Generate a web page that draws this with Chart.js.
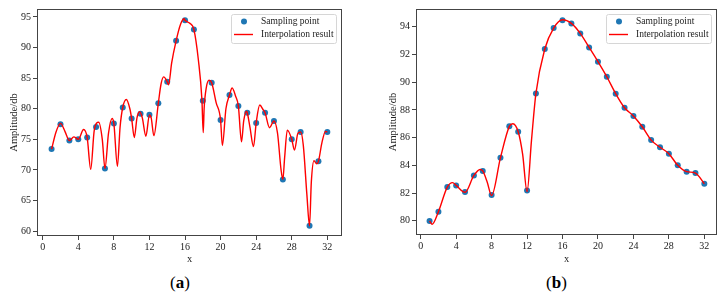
<!DOCTYPE html>
<html>
<head>
<meta charset="utf-8">
<script src="https://cdn.jsdelivr.net/npm/chart.js@4/dist/chart.umd.min.js"></script>
<style>
  html, body { margin:0; padding:0; background:#fff; }
  body { width:724px; height:298px; position:relative; overflow:hidden; }
  canvas { position:absolute; top:0; }
  #ca { left:0; }
  #cb { left:362px; }
  .cap { position:absolute; top:273px; font-family:"Liberation Serif", serif; font-size:17px; color:#000; line-height:20px; }
  .cap b { font-weight:bold; }
</style>
</head>
<body>
<canvas id="ca" width="362" height="272"></canvas>
<canvas id="cb" width="362" height="272"></canvas>
<div class="cap" style="left:170px;">(<b>a</b>)</div>
<div class="cap" style="left:546px;">(<b>b</b>)</div>
<script>
// ---- data ----
const xSample = [1,2,3,4,5,6,7,8,9,10,11,12,13,14,15,16,17,18,19,20,21,22,23,24,25,26,27,28,29,30,31,32];
const ampA = [73.4,77.45,74.8,75.0,75.3,77.0,70.25,77.6,80.2,78.4,79.2,79.0,80.9,84.4,91.1,94.45,
              92.93,81.3,84.26,78.15,82.24,80.44,79.35,77.66,79.35,78.0,68.45,75.0,76.19,60.87,71.4,76.19];
const ampB = [79.98,80.65,82.43,82.55,82.07,83.27,83.59,81.85,84.55,86.81,86.42,82.19,89.19,92.39,93.9,94.46,
              94.24,93.52,92.51,91.48,90.39,89.17,88.15,87.56,86.78,85.82,85.3,84.84,84.0,83.54,83.44,82.67];

// interpolation curves (x, amplitude)
const curveAx = [1,1.5,2,2.5,3,3.5,4,4.6,5,5.4,5.8,6.3,6.7,7,7.4,7.8,8,8.4,8.7,9,9.4,9.8,10,10.3,10.6,10.9,11.2,11.6,12,12.2,12.5,
                 13,13.3,13.6,14,14.15,14.5,15,15.5,15.9,16,16.5,17,17.5,17.9,18.05,18.15,18.4,18.7,19,19.5,20,20.2,20.6,21,21.3,21.7,
                 22,22.35,22.6,22.9,23,23.3,23.7,24,24.4,24.8,25,25.5,26,26.4,26.8,27,27.2,27.5,28,28.3,28.7,29,29.3,29.7,30,30.2,30.5,
                 30.8,31,31.4,31.8,32];
const curveAy = [73.4,76.2,77.6,76.3,74.8,75.4,75.0,76.6,75.3,70.1,76.5,77.8,75.0,70.25,76.0,78.4,77.6,70.6,77.0,80.2,81.5,80.0,78.4,75.3,78.5,79.5,78.5,75.5,79.0,78.5,75.6,
                 80.9,84.0,85.2,84.4,83.9,87.5,91.1,93.8,94.7,94.45,94.0,92.93,88.0,81.5,76.1,80.0,83.5,84.65,84.26,81.0,78.15,74.0,80.0,82.24,83.4,82.0,
                 80.44,74.6,78.0,79.6,79.35,77.0,73.8,77.66,80.6,79.8,79.35,76.9,78.0,76.0,70.0,68.45,72.0,76.5,75.0,73.25,76.0,76.2,74.0,66.0,60.87,68.0,71.5,
                 71.0,71.4,74.5,76.3,76.19];
const curveBx = [1,1.3,2,3,3.6,4,5,6,6.7,7,7.5,8,9,10,10.4,11,11.5,12,12.5,13,14,15,16,17,18,19,20,21,22,23,24,25,26,27,28,29,30,31,32];
const curveBy = [79.98,79.75,80.65,82.43,82.75,82.55,82.05,83.27,83.7,83.59,82.8,81.82,84.55,86.81,87.0,86.42,84.8,82.1,85.8,89.19,92.39,93.9,94.5,
                 94.24,93.52,92.51,91.48,90.39,89.17,88.15,87.56,86.78,85.82,85.3,84.84,84.0,83.54,83.44,82.67];

const xTicks = [0,4,8,12,16,20,24,28,32];
const yTicksA = [60,65,70,75,80,85,90,95];
const yTicksB = [80,82,84,86,88,90,92,94];
const legendLabels = ["Sampling point", "Interpolation result"];
const yTitle = "Amplitude/db";
const xTitle = "x";

// ---- styling ----
const SERIF = '"Liberation Serif", "Times New Roman", serif';
const TXT = '#222';
const FRAME = '#444';
const BLUE = '#1f77b4';
const RED = '#ff0000';

const framePlugin = {
  id: 'frame',
  afterDraw(chart) {
    const {ctx, chartArea: a} = chart;
    ctx.save();
    ctx.strokeStyle = FRAME;
    ctx.lineWidth = 1;
    ctx.strokeRect(Math.round(a.left) + 0.5, Math.round(a.top) + 0.5,
                   Math.round(a.right - a.left) - 1, Math.round(a.bottom - a.top) - 1);
    // legend
    const w = 105, h = 29;
    const bx = a.right - 6 - w, by = a.top + 5;
    ctx.fillStyle = 'rgba(255,255,255,0.85)';
    ctx.strokeStyle = '#d6d6d6';
    ctx.beginPath();
    if (ctx.roundRect) ctx.roundRect(bx + 0.5, by + 0.5, w, h, 2); else ctx.rect(bx + 0.5, by + 0.5, w, h);
    ctx.fill(); ctx.stroke();
    ctx.fillStyle = BLUE;
    ctx.beginPath(); ctx.arc(bx + 13, by + 7.5, 3, 0, Math.PI * 2); ctx.fill();
    ctx.strokeStyle = RED; ctx.lineWidth = 1.4;
    ctx.beginPath(); ctx.moveTo(bx + 3, by + 20.5); ctx.lineTo(bx + 22, by + 20.5); ctx.stroke();
    ctx.fillStyle = TXT;
    ctx.font = '9.5px ' + SERIF;
    ctx.textBaseline = 'middle';
    ctx.textAlign = 'left';
    ctx.fillText(legendLabels[0], bx + 30, by + 7.5);
    ctx.fillText(legendLabels[1], bx + 30, by + 20.5);
    ctx.restore();
  }
};

function makeChart(id, samples, cx, cy, yTicks, yMin, yMax, xMin, xMax, pad, xHeight) {
  const ctx = document.getElementById(id).getContext('2d');
  return new Chart(ctx, {
    type: 'scatter',
    data: {
      datasets: [
        {
          label: legendLabels[1],
          data: cx.map((x, i) => ({x, y: cy[i]})),
          showLine: true,
          borderColor: RED,
          borderWidth: 1.4,
          pointRadius: 0,
          cubicInterpolationMode: 'monotone',
          order: 0
        },
        {
          label: legendLabels[0],
          data: xSample.map((x, i) => ({x, y: samples[i]})),
          backgroundColor: BLUE,
          borderWidth: 0,
          pointRadius: 3,
          pointHoverRadius: 3,
          order: 1
        }
      ]
    },
    options: {
      responsive: false,
      animation: false,
      devicePixelRatio: 1,
      events: [],
      layout: { padding: pad },
      plugins: { legend: { display: false }, tooltip: { enabled: false } },
      scales: {
        x: {
          type: 'linear', min: xMin, max: xMax,
          afterBuildTicks(s) { s.ticks = xTicks.map(v => ({value: v})); },
          afterFit(s) { s.height = xHeight; },
          grid: { drawOnChartArea: false, drawTicks: true, tickLength: 4, color: FRAME, tickColor: FRAME },
          border: { display: false },
          ticks: { color: TXT, padding: 1, font: { family: SERIF, size: 10 }, maxRotation: 0, autoSkip: false },
          title: { display: true, text: xTitle, color: TXT, font: { family: SERIF, size: 10.5 }, padding: { top: 0, bottom: 6 } }
        },
        y: {
          type: 'linear', min: yMin, max: yMax,
          afterBuildTicks(s) { s.ticks = yTicks.map(v => ({value: v})); },
          afterFit(s) { s.width = 37; },
          grid: { drawOnChartArea: false, drawTicks: true, tickLength: 4, color: FRAME, tickColor: FRAME },
          border: { display: false },
          ticks: { color: TXT, padding: 2, font: { family: SERIF, size: 10 }, autoSkip: false },
          title: { display: true, text: yTitle, color: TXT, font: { family: SERIF, size: 10.5 }, padding: { top: 8, bottom: 0 } }
        }
      }
    },
    plugins: [framePlugin]
  });
}

makeChart('ca', ampA, curveAx, curveAy, yTicksA, 59.2, 96.3, -0.64, 33.65, { left: 0, top: 9, right: 20, bottom: 0 }, 36);
makeChart('cb', ampB, curveBx, curveBy, yTicksB, 78.97, 95.28, -0.53, 33.43, { left: 17, top: 9, right: 7, bottom: 0 }, 37);
</script>
</body>
</html>
